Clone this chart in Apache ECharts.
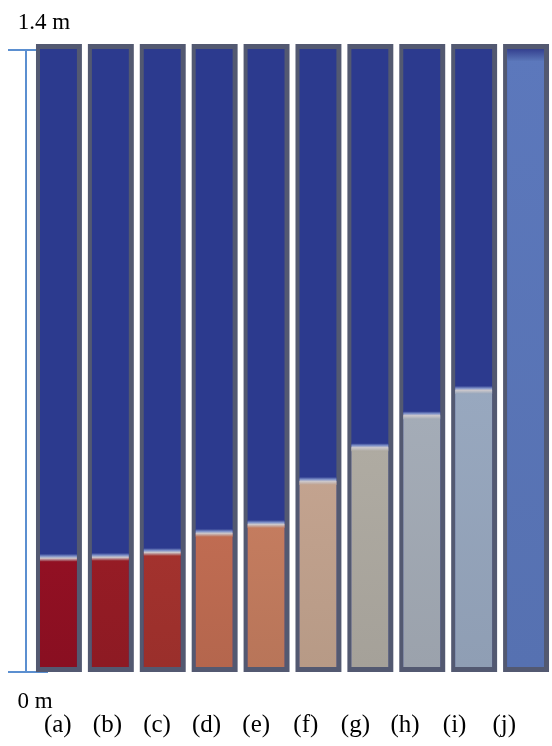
<!DOCTYPE html>
<html>
<head>
<meta charset="utf-8">
<script src="https://cdn.jsdelivr.net/npm/echarts@6/dist/echarts.min.js"></script>
<style>
  html, body { margin: 0; padding: 0; background: #ffffff; }
  #chart { width: 552px; height: 746px; }
</style>
</head>
<body>
<div id="chart"></div>
<script>
// Case labels shown under the columns
const caseLabels = ['(a)', '(b)', '(c)', '(d)', '(e)', '(f)', '(g)', '(h)', '(i)', '(j)'];
// Height of the lower (mixed) layer in each column, metres
const layerHeights = [0.257, 0.259, 0.270, 0.313, 0.333, 0.430, 0.506, 0.578, 0.635, 1.4];
// Column height scale and its end labels
const columnHeight = 1.4;
const heightTicks = ['0 m', '1.4 m'];

// Colour of the lower layer in each column
const layerColors = ['#8f1022', '#931b24', '#a0312d', '#bc6a50', '#c07a5d',
                     '#bfa08c', '#aca89f', '#a1a9b3', '#95a5bb', '#5a76b8'];
const upperColor = '#2c3a8e';
const frameColor = '#535971';
const scaleColor = '#5b8fd0';
const serif = '"Liberation Serif", "Times New Roman", serif';

function shade(hex, f) {
  const n = parseInt(hex.slice(1), 16);
  const r = Math.round(((n >> 16) & 255) * f);
  const g = Math.round(((n >> 8) & 255) * f);
  const b = Math.round((n & 255) * f);
  return 'rgb(' + Math.min(r, 255) + ',' + Math.min(g, 255) + ',' + Math.min(b, 255) + ')';
}

function renderColumn(params, api) {
  const i = api.value(0);
  const level = api.value(1);
  const color = layerColors[i];
  const band = api.size([1, 0])[0];
  const w = band * 0.885;
  const base = api.coord([i, 0]);
  const cx = base[0];
  const yBase = base[1];
  const yTop = api.coord([i, columnHeight])[1];
  const yLevel = api.coord([i, level])[1];
  const x0 = cx - w / 2;

  const innerX = x0 + 4;
  const innerW = w - 9;
  const innerTop = yTop - 1;
  const innerBottom = yBase - 5;

  const children = [
    { type: 'rect', shape: { x: x0, y: yTop - 6, width: w, height: yBase - yTop + 6 },
      style: { fill: frameColor } },
    { type: 'rect', shape: { x: innerX, y: innerTop, width: innerW, height: innerBottom - innerTop },
      style: { fill: upperColor } }
  ];

  const full = level >= columnHeight;
  const fillTop = full ? innerTop : yLevel;
  children.push({
    type: 'rect',
    shape: { x: innerX, y: fillTop, width: innerW, height: innerBottom - fillTop },
    style: {
      fill: {
        type: 'linear', x: 0, y: 0, x2: 0, y2: 1,
        colorStops: [
          { offset: 0, color: shade(color, 1.02) },
          { offset: 1, color: shade(color, 0.96) }
        ]
      }
    }
  });

  if (full) {
    // darker fringe at the very top of a completely mixed column
    children.push({
      type: 'rect',
      shape: { x: innerX, y: innerTop, width: innerW, height: 12 },
      style: {
        fill: {
          type: 'linear', x: 0, y: 0, x2: 0, y2: 1,
          colorStops: [
            { offset: 0, color: '#34408f' },
            { offset: 1, color: color }
          ]
        }
      }
    });
  } else {
    // soft pale band marking the interface between the two layers
    children.push({
      type: 'rect',
      shape: { x: innerX, y: yLevel - 4, width: innerW, height: 8 },
      style: {
        fill: {
          type: 'linear', x: 0, y: 0, x2: 0, y2: 1,
          colorStops: [
            { offset: 0, color: upperColor },
            { offset: 0.3, color: '#7f91c8' },
            { offset: 0.55, color: '#ccc8cc' },
            { offset: 1, color: color }
          ]
        }
      }
    });
  }

  return { type: 'group', children: children };
}

const chart = echarts.init(document.getElementById('chart'), null, { renderer: 'canvas' });

chart.setOption({
  animation: false,
  backgroundColor: '#ffffff',
  grid: [
    { left: 33, right: -3, top: 50, bottom: 74 },
    { left: 33, right: 23, top: 50, bottom: 74 }
  ],
  xAxis: [
    {
      type: 'category', gridIndex: 0,
      data: caseLabels,
      axisLine: { show: false }, axisTick: { show: false }, axisLabel: { show: false }
    },
    {
      type: 'category', gridIndex: 1,
      data: caseLabels,
      axisLine: { show: false }, axisTick: { show: false },
      axisLabel: { show: true, margin: 41, color: '#000000', fontFamily: serif, fontSize: 25 }
    }
  ],
  yAxis: [
    {
      type: 'value', gridIndex: 0, position: 'left', min: 0, max: columnHeight, interval: columnHeight,
      offset: 7,
      name: heightTicks[1], nameLocation: 'end', nameGap: 16,
      nameTextStyle: { color: '#000000', fontFamily: serif, fontSize: 23, padding: [0, 0, 0, 36] },
      axisLine: { show: true, lineStyle: { color: scaleColor, width: 2 } },
      axisTick: { show: true, inside: false, length: 18, lineStyle: { color: scaleColor, width: 2 } },
      axisLabel: { show: false },
      splitLine: { show: false }
    },
    {
      type: 'value', gridIndex: 0, position: 'left', min: 0, max: columnHeight, interval: columnHeight,
      offset: 7,
      name: heightTicks[0], nameLocation: 'start', nameGap: 18,
      nameTextStyle: { color: '#000000', fontFamily: serif, fontSize: 23, padding: [0, 0, 0, 18] },
      axisLine: { show: false },
      axisTick: { show: true, inside: true, length: 22, lineStyle: { color: scaleColor, width: 2 } },
      axisLabel: { show: false },
      splitLine: { show: false }
    },
    {
      type: 'value', gridIndex: 1, min: 0, max: columnHeight, show: false
    }
  ],
  series: [
    {
      type: 'custom',
      xAxisIndex: 0, yAxisIndex: 0,
      renderItem: renderColumn,
      data: layerHeights.map((h, i) => [i, h]),
      z: 1
    }
  ]
});
</script>
</body>
</html>
